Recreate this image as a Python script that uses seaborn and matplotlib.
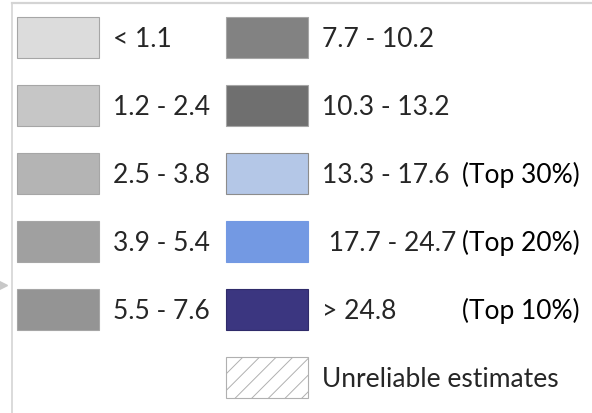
import matplotlib.pyplot as plt
import seaborn as sns
from matplotlib.patches import Patch
from matplotlib.lines import Line2D

# LEGEND CONTENT

left_labels = ["< 1.1", "1.2 - 2.4", "2.5 - 3.8", "3.9 - 5.4", "5.5 - 7.6"]
left_colors = ["#dcdcdc", "#c6c6c6", "#b4b4b4", "#a0a0a0", "#949494"]

right_labels = ["7.7 - 10.2", "10.3 - 13.2", "13.3 - 17.6", " 17.7 - 24.7", "> 24.8"]
right_colors = ["#828282", "#6f6f6f", "#b4c7e7", "#7399e3", "#3b3680"]
right_edges = ["#a6a6a6", "#a6a6a6", "#8c8c8c", "#7399e3", "#2f2b6a"]
top_notes = ["", "", "(Top 30%)", "(Top 20%)", "(Top 10%)"]

hatch_label = "Unreliable estimates"

sns.set_theme(style="white")
plt.rcParams['font.family'] = ['Lato', 'DejaVu Sans']

fig = plt.figure(figsize=(5.92, 4.14), dpi=100)
W, H = 592, 414

# frame (only left and top edges show in the crop)
frame = fig.add_axes([11.5 / W, -0.2, 1.2, 1 - 4 / H + 0.2])
frame.set_xticks([])
frame.set_yticks([])
for side in ["right", "bottom"]:
    frame.spines[side].set_visible(False)
frame.spines["left"].set_color("#d4d4d4")
frame.spines["left"].set_linewidth(1.2)
frame.spines["top"].set_color("#d4d4d4")
frame.spines["top"].set_linewidth(1.6)
frame.patch.set_alpha(0)

# small arrow at left edge
fig.add_artist(Line2D([1.5 / W], [1 - 286 / H], marker=">", markersize=7,
                      color="#c8c8c8", transform=fig.transFigure))

handles = [Patch(facecolor=c, edgecolor="#a6a6a6", linewidth=0.8) for c in left_colors]
labels = list(left_labels)
handles.append(Patch(facecolor="none", edgecolor="none"))
labels.append("")
handles += [Patch(facecolor=c, edgecolor=e, linewidth=0.8)
            for c, e in zip(right_colors, right_edges)]
labels += right_labels
plt.rcParams['hatch.linewidth'] = 0.7
handles.append(Patch(facecolor="white", edgecolor="#b0b0b0", hatch="//", linewidth=0.8))
labels.append(hatch_label)

fs = 19
px = fs * 100 / 72
sw_h = 41 / px
hh = (sw_h - 0.245) / 0.65
leg = fig.legend(handles, labels, ncol=2, loc="upper left",
                 bbox_to_anchor=(17 / W, 1 - 18 / H), frameon=False,
                 fontsize=fs, borderpad=0, borderaxespad=0,
                 handlelength=82 / px, handleheight=hh,
                 labelspacing=27 / px, handletextpad=14 / px,
                 columnspacing=16 / px)

# "(Top x%)" notes right-aligned next to their rows
fig.canvas.draw()
texts = leg.get_texts()[6:11]
for t, note in zip(texts, top_notes):
    if note:
        bb = t.get_window_extent()
        fig.text(580 / W, (bb.y0 + bb.y1) / 2 / H, note, ha="right", va="center",
                 fontsize=fs, color="black")

fig.savefig("out.png", dpi=100)
